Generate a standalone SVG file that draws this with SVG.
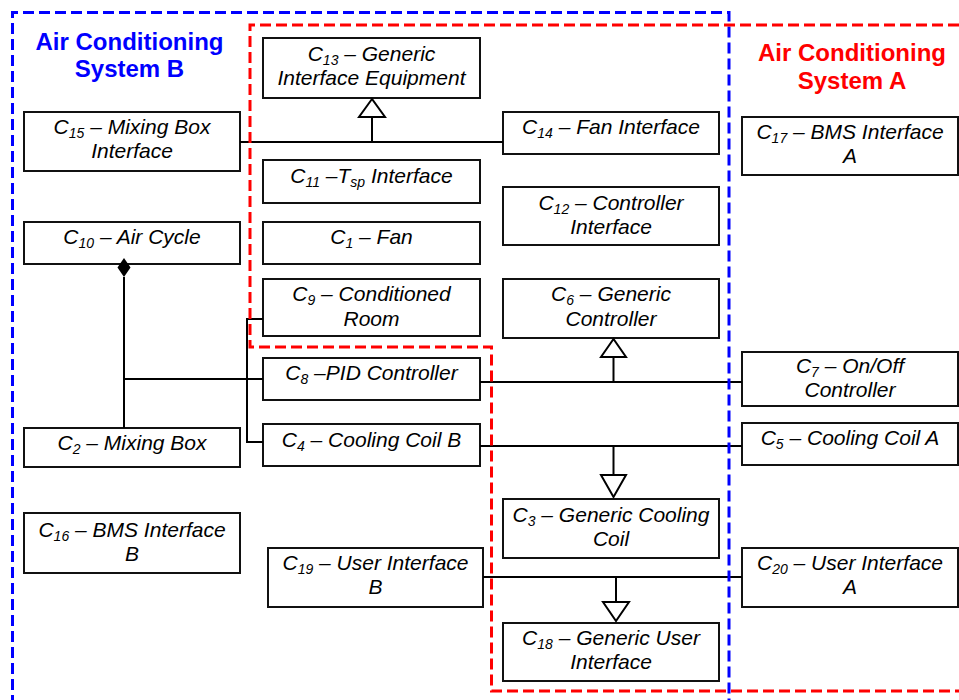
<svg xmlns="http://www.w3.org/2000/svg" width="959" height="700" viewBox="0 0 959 700">
<style>
.box{fill:#fff;stroke:#111;stroke-width:2}
.lbl{font-family:"Liberation Sans",Arial,sans-serif;font-style:italic;font-size:21px;fill:#000;text-anchor:middle}
.sub{font-size:14px}
.ttl{font-family:"Liberation Sans",Arial,sans-serif;font-weight:bold;font-size:24px;text-anchor:middle}
.cn{fill:none;stroke:#000;stroke-width:2}
.tri{fill:#fff;stroke:#000;stroke-width:2}
.reg{fill:none;stroke-width:3;stroke-dasharray:11 5}
</style>
<rect width="959" height="700" fill="#fff"/>
<g id="C13"><rect class="box" x="263" y="38" width="217" height="60"/><text class="lbl" x="371.5" y="61">C<tspan class="sub" dy="4">13</tspan><tspan dy="-4"> – Generic</tspan></text><text class="lbl" x="371.5" y="85">Interface Equipment</text></g>
<g id="C15"><rect class="box" x="24" y="112" width="216" height="59"/><text class="lbl" x="132" y="134">C<tspan class="sub" dy="4">15</tspan><tspan dy="-4"> – Mixing Box</tspan></text><text class="lbl" x="132" y="158">Interface</text></g>
<g id="C14"><rect class="box" x="503" y="112" width="216" height="42"/><text class="lbl" x="611" y="134">C<tspan class="sub" dy="4">14</tspan><tspan dy="-4"> – Fan Interface</tspan></text></g>
<g id="C17"><rect class="box" x="742" y="117" width="216" height="58"/><text class="lbl" x="850" y="139">C<tspan class="sub" dy="4">17</tspan><tspan dy="-4"> – BMS Interface</tspan></text><text class="lbl" x="850" y="163">A</text></g>
<g id="C11"><rect class="box" x="263" y="160" width="217" height="43"/><text class="lbl" x="371.5" y="183">C<tspan class="sub" dy="4">11</tspan><tspan dy="-4"> –T</tspan><tspan class="sub" dy="4">sp</tspan><tspan dy="-4"> Interface</tspan></text></g>
<g id="C12"><rect class="box" x="503" y="187" width="216" height="58"/><text class="lbl" x="611" y="210">C<tspan class="sub" dy="4">12</tspan><tspan dy="-4"> – Controller</tspan></text><text class="lbl" x="611" y="234">Interface</text></g>
<g id="C10"><rect class="box" x="24" y="222" width="216" height="42"/><text class="lbl" x="132" y="244">C<tspan class="sub" dy="4">10</tspan><tspan dy="-4"> – Air Cycle</tspan></text></g>
<g id="C1"><rect class="box" x="263" y="222" width="217" height="42"/><text class="lbl" x="371.5" y="244">C<tspan class="sub" dy="4">1</tspan><tspan dy="-4"> – Fan</tspan></text></g>
<g id="C9"><rect class="box" x="263" y="279" width="217" height="57"/><text class="lbl" x="371.5" y="301">C<tspan class="sub" dy="4">9</tspan><tspan dy="-4"> – Conditioned</tspan></text><text class="lbl" x="371.5" y="326">Room</text></g>
<g id="C6"><rect class="box" x="503" y="279" width="216" height="59"/><text class="lbl" x="611" y="301">C<tspan class="sub" dy="4">6</tspan><tspan dy="-4"> – Generic</tspan></text><text class="lbl" x="611" y="326">Controller</text></g>
<g id="C7"><rect class="box" x="742" y="352" width="216" height="54"/><text class="lbl" x="850" y="373">C<tspan class="sub" dy="4">7</tspan><tspan dy="-4"> – On/Off</tspan></text><text class="lbl" x="850" y="397">Controller</text></g>
<g id="C8"><rect class="box" x="263" y="358" width="217" height="42"/><text class="lbl" x="371.5" y="380">C<tspan class="sub" dy="4">8</tspan><tspan dy="-4"> –PID Controller</tspan></text></g>
<g id="C4"><rect class="box" x="263" y="424" width="217" height="42"/><text class="lbl" x="371.5" y="447">C<tspan class="sub" dy="4">4</tspan><tspan dy="-4"> – Cooling Coil B</tspan></text></g>
<g id="C5"><rect class="box" x="742" y="423" width="216" height="42"/><text class="lbl" x="850" y="445">C<tspan class="sub" dy="4">5</tspan><tspan dy="-4"> – Cooling Coil A</tspan></text></g>
<g id="C2"><rect class="box" x="24" y="428" width="216" height="39"/><text class="lbl" x="132" y="450">C<tspan class="sub" dy="4">2</tspan><tspan dy="-4"> – Mixing Box</tspan></text></g>
<g id="C3"><rect class="box" x="503" y="499" width="216" height="59"/><text class="lbl" x="611" y="522">C<tspan class="sub" dy="4">3</tspan><tspan dy="-4"> – Generic Cooling</tspan></text><text class="lbl" x="611" y="546">Coil</text></g>
<g id="C16"><rect class="box" x="24" y="513" width="216" height="60"/><text class="lbl" x="132" y="537">C<tspan class="sub" dy="4">16</tspan><tspan dy="-4"> – BMS Interface</tspan></text><text class="lbl" x="132" y="561">B</text></g>
<g id="C19"><rect class="box" x="268" y="548" width="215" height="59"/><text class="lbl" x="375.5" y="570">C<tspan class="sub" dy="4">19</tspan><tspan dy="-4"> – User Interface</tspan></text><text class="lbl" x="375.5" y="594">B</text></g>
<g id="C20"><rect class="box" x="742" y="548" width="216" height="59"/><text class="lbl" x="850" y="570">C<tspan class="sub" dy="4">20</tspan><tspan dy="-4"> – User Interface</tspan></text><text class="lbl" x="850" y="594">A</text></g>
<g id="C18"><rect class="box" x="503" y="623" width="216" height="58"/><text class="lbl" x="611" y="645">C<tspan class="sub" dy="4">18</tspan><tspan dy="-4"> – Generic User</tspan></text><text class="lbl" x="611" y="669">Interface</text></g>
<g id="connectors">
<line class="cn" x1="240" y1="142" x2="503" y2="142"/>
<line class="cn" x1="372" y1="142" x2="372" y2="117"/>
<polygon class="tri" points="372,99 359,117 385,117"/>
<line class="cn" x1="124" y1="277" x2="124" y2="428"/>
<path d="M124,258 L130.5,267.5 L124,277 L117.5,267.5 Z" fill="#000"/>
<line class="cn" x1="124" y1="379" x2="263" y2="379"/>
<polyline class="cn" points="263,319 247,319 247,442 263,442"/>
<line class="cn" x1="480" y1="382" x2="742" y2="382"/>
<line class="cn" x1="613.5" y1="382" x2="613.5" y2="357"/>
<polygon class="tri" points="613.5,339 601,357 626,357"/>
<line class="cn" x1="480" y1="446" x2="742" y2="446"/>
<line class="cn" x1="613.5" y1="446" x2="613.5" y2="475"/>
<polygon class="tri" points="601,475 626,475 613.5,497"/>
<line class="cn" x1="483" y1="577" x2="742" y2="577"/>
<line class="cn" x1="616" y1="577" x2="616" y2="602"/>
<polygon class="tri" points="603,602 629,602 616,621"/>
</g>
<g id="systemB">
<path class="reg" stroke="#0000ff" d="M12.5,706 L12.5,12.5 L729,12.5 L729,706"/>
<text class="ttl" fill="#0000ff" x="129.5" y="50">Air Conditioning</text>
<text class="ttl" fill="#0000ff" x="129.5" y="77">System B</text>
</g>
<g id="systemA">
<path class="reg" stroke="#ff0000" d="M966,691 L491.5,691 L491.5,347 L250,347 L250,25 L966,25"/>
<text class="ttl" fill="#ff0000" x="852" y="61">Air Conditioning</text>
<text class="ttl" fill="#ff0000" x="852" y="89">System A</text>
</g>
</svg>
